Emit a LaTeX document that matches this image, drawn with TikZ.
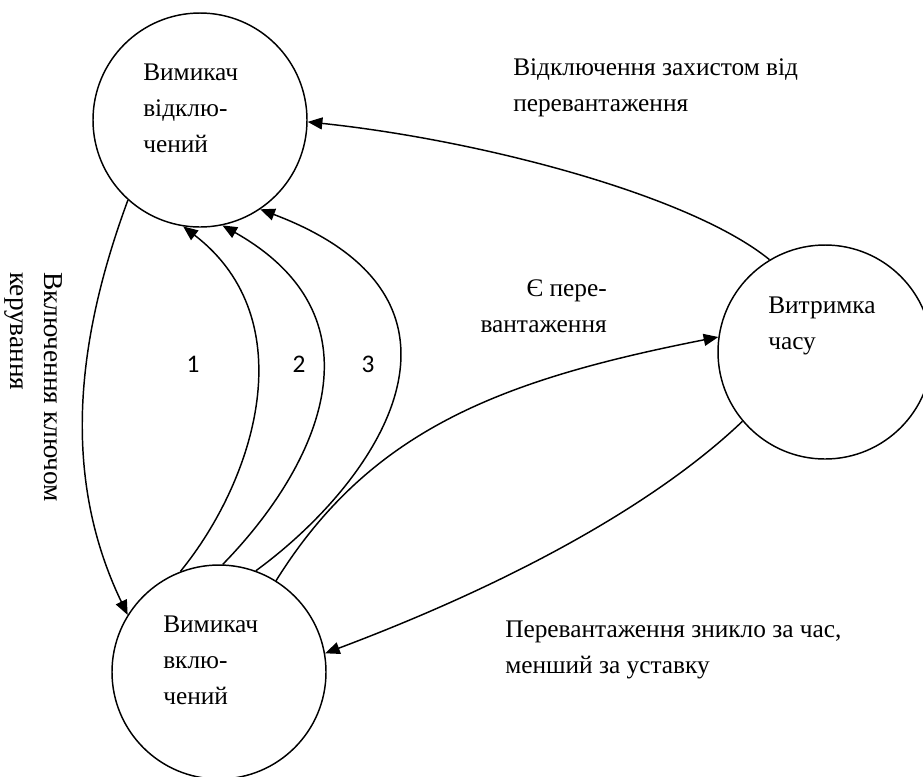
\documentclass[tikz,border=0pt]{standalone}
\usepackage{fontspec}
\setmainfont{Liberation Serif}
\newfontfamily\numfont{Carlito}
\usetikzlibrary{arrows.meta}
\tikzset{
  state/.style={circle, draw, line width=1.1pt, minimum size=160.5pt, inner sep=0pt},
  link/.style={line width=1.1pt, -{Triangle[length=11pt,width=9pt]}},
  txt/.style={font=\fontsize{19}{27}\selectfont, align=left, inner sep=0pt},
  num/.style={font=\numfont\fontsize{19}{23}\selectfont, inner sep=0pt},
}

\begin{document}
\begin{tikzpicture}[x=0.75pt, y=-0.75pt]
  \useasboundingbox (0,0) rectangle (923,776);

  % states
  \node[state] (off) at (200,120) {};
  \node[state] (on) at (219,672) {};
  \node[state] (delay) at (825,352) {};

  % base = last line
  \node[txt, anchor=base west] (offtxt) at (143,152) {Вимикач\\відклю-\\чений};
  \node[txt, anchor=base west] (ontxt) at (163,704) {Вимикач\\вклю-\\чений};
  \node[txt, anchor=base west] (delaytxt) at (768,349) {Витримка\\часу};

  % transitions
  \draw[link] (off.-132) .. controls (80,330) and (58,470) .. (on.148);
  \draw[link] (on.111) .. controls (255,480) and (305,320) .. (off.-99);
  \draw[link] (on.88) .. controls (315,470) and (390,320) .. (off.-78);
  \draw[link] (on.70) .. controls (380,480) and (500,300) .. (off.-56);
  \draw[link] (on.58) .. controls (370,430) and (500,380) .. (delay.172);
  \draw[link] (delay.121) .. controls (690,195) and (480,140) .. (off.-1);
  \draw[link] (delay.-140) .. controls (660,500) and (520,580) .. (on.10);

  % labels
  \node[num] (n1) at (193,364) {1};
  \node[num] (n2) at (299,364) {2};
  \node[num] (n3) at (368,364) {3};
  \node[txt, anchor=base west] (trip) at (513,111) {Відключення захистом від\\перевантаження};
  \node[txt, anchor=base east, align=right] (load) at (607,332) {Є пере-\\вантаження};
  \node[txt, anchor=base west] (gone) at (505,673) {Перевантаження зникло за час,\\менший за уставку};
  \node[txt, font=\fontsize{20.5}{25}\selectfont, anchor=base west, rotate=-90] (key) at (11,272) {Включення ключом\\керування};
\end{tikzpicture}
\end{document}
